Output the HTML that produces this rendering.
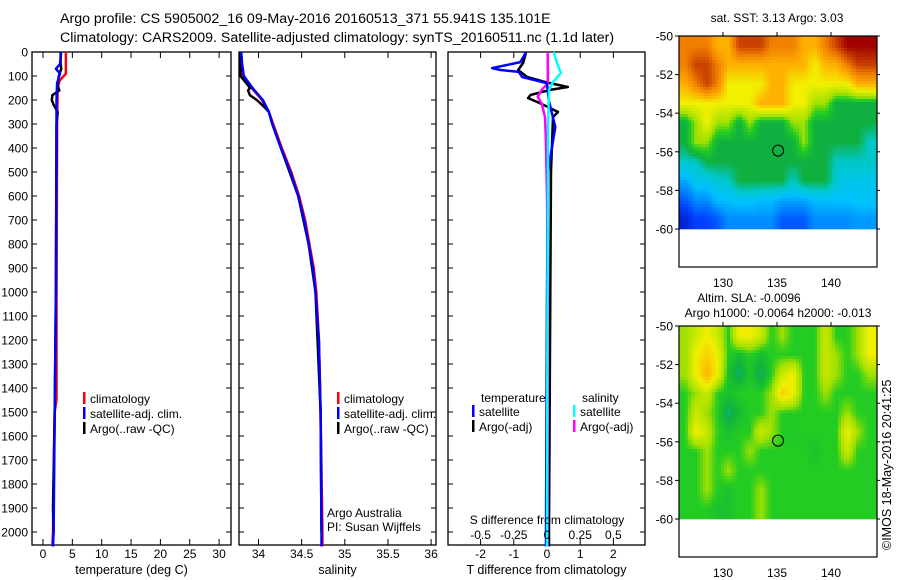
<!DOCTYPE html>
<html><head><meta charset="utf-8">
<style>
html,body{margin:0;padding:0;background:#fff;}
svg{display:block;font-family:"Liberation Sans",sans-serif;}
text{fill:#000;}
</style></head>
<body>
<svg id="fig" width="900" height="580" viewBox="0 0 900 580" xmlns="http://www.w3.org/2000/svg">
<text x="60" y="23" font-size="14.2">Argo profile: CS 5905002_16 09-May-2016 20160513_371 55.941S 135.101E</text>
<text x="60" y="42" font-size="14.2">Climatology: CARS2009. Satellite-adjusted climatology: synTS_20160511.nc (1.1d later)</text>
<text font-size="12.5" transform="translate(891,550) rotate(-90)">©IMOS 18-May-2016 20:41:25</text>
</svg>
<script>
// ---------- data ----------
const depthTicks = [0,100,200,300,400,500,600,700,800,900,1000,1100,1200,1300,1400,1500,1600,1700,1800,1900,2000];
const tTicks = [0,5,10,15,20,25,30];
const sTicks = [34,34.5,35,35.5,36];
const sTickLabels = ["34","34.5","35","35.5","36"];
const dTTicks = [-2,-1,0,1,2];
const dSTicks = [-0.5,-0.25,0,0.25,0.5];
const dSTickLabels = ["-0.5","-0.25","0","0.25","0.5"];

const tClimDepth = [0,90,120,150,300,1000,1450,1500,2000,2060];
const tClim      = [3.9,3.9,2.8,2.5,2.4,2.3,2.3,2.0,1.7,1.6];
const tSatDepth  = [0,50,70,90,130,200,400,1000,1500,2000,2060];
const tSat       = [3.1,2.9,2.2,2.9,2.4,2.3,2.3,2.2,2.0,1.8,1.7];
const tArgoDepth = [0,50,70,100,140,160,180,200,220,250,300,1000,1500,1900,2000];
const tArgo      = [3.0,3.0,3.1,2.7,2.5,2.8,1.6,1.5,1.8,2.5,2.3,2.2,2.0,1.7,1.8];

const sClimDepth = [0,50,100,150,200,250,300,400,500,600,700,800,900,1000,1200,1500,2000,2060];
const sClim      = [33.79,33.8,33.81,33.92,34.04,34.12,34.17,34.27,34.38,34.47,34.54,34.59,34.64,34.67,34.7,34.72,34.74,34.74];
const sSatDepth  = [0,50,100,150,200,250,300,400,500,600,700,800,900,1000,1200,1500,2000,2060];
const sSat       = [33.8,33.81,33.83,33.93,34.05,34.12,34.16,34.26,34.37,34.46,34.53,34.58,34.63,34.66,34.7,34.72,34.73,34.73];
const sArgoDepth = [0,100,130,150,160,180,200,230,250,300,400,600,800,1000,1500,2000];
const sArgo      = [33.79,33.79,33.86,33.9,33.88,33.9,33.98,34.07,34.12,34.16,34.26,34.46,34.58,34.66,34.72,34.73];

const dTSatDepth  = [0,42,67,75,83,104,130,200,312,500,1000,2000,2060];
const dTSat       = [-0.63,-0.8,-1.65,-1.4,-0.85,-0.75,0,0.05,0.25,0.03,0,-0.03,-0.03];
const dTArgoDepth = [0,46,75,104,125,146,158,179,192,208,229,250,271,500,1000,2000,2060];
const dTArgo      = [-0.63,-0.72,-0.87,-0.6,-0.06,0.63,0.09,-0.5,-0.57,-0.3,0.03,0.33,0.18,0.12,0.1,0.06,0.06];
const dSSatDepth  = [0,46,88,125,158,300,1000,2000,2060];
const dSSat       = [0.05,0.075,0.105,0.045,0.015,0.008,0.004,0,0];
const dSArgoDepth = [0,130,158,187,215,271,365,600,1000,1500,2000,2060];
const dSArgo      = [0.005,0.007,-0.04,-0.07,-0.04,-0.015,-0.008,0,0.005,0.006,0.004,0.004];

const mapLonTicks = [130,135,140];
const mapLatTicks = [-50,-52,-54,-56,-58,-60];
const sstGrid = [
 [7,7,7,6,6,8,8,8,7,7,7,6,6,7,8,9,9,9],
 [7,8,8,7,6,6,6,6,6,6,6,6,5,6,6,7,8,8],
 [6,7,8,7,5,5,5,5,6,6,5,5,5,5,5,5,6,6],
 [5,5,5,5,5,5,5,6,6,6,5,5,4,4,3,3,3,3],
 [3,4,5,4,4,3,4,3,3,3,4,4,3,3,3,3,3,3],
 [3,4,4,3,3,3,3,3,3,3,3,4,3,3,3,3,3,2.5],
 [2.5,2.5,3,3,3,3,3,3,3,3,3,3,3,3,2.5,2.5,2.5,2.5],
 [1.8,2.2,2.2,2.4,2.5,3,3,3,3,3,2.5,3,3,3,2.4,2.2,2.2,2.2],
 [1.2,1.6,1.6,2,2,2.1,2.1,2,2,1.8,1.8,1.8,2,2,2,2,2.1,2.1],
 [0.6,1,1,1.2,1.6,1.6,1.6,1.6,1.6,1.2,1.2,1.2,1.6,1.6,1.6,1.6,1.7,1.7]
];
const slaGrid = [
 [4,4.5,5,4.5,3.5,5,5,4.5,3.5,4,3.5,3.5,3.5,4.5,3.5,3.5,4,5],
 [4,5,5.5,5,3.5,3.2,3.5,3.2,3.5,3.5,3.5,3.5,3.5,4.5,4,3.5,4,5],
 [4,5,6,5,3.3,2.8,3.4,2.8,3.5,4.5,5,3.5,3.5,4.5,4,3.5,3.5,4],
 [3.5,4,4.5,3.5,3.3,3.5,3.5,3.5,4,5.5,5,3.5,3.5,4,3.5,3.5,3.5,3.5],
 [3.5,4.5,4,3.5,2.8,3.2,3.5,3.5,4,3.5,3.5,3.5,3.5,3.5,3.5,4,3.5,3.5],
 [3.5,5,4.5,3.5,3.3,3.5,3.5,4.5,4,3.5,3.4,3.5,3.5,3.5,3.5,5,4,3.5],
 [3.5,3.5,4,3.5,3.5,3.5,4,3.5,3.5,3.5,3.5,3.5,3.3,3.5,3.5,4.5,3.5,3.5],
 [3.5,3.5,4,3.5,4,3.5,3.5,3.5,3.5,3.5,3.5,3.5,3.5,3.5,3.5,3.5,3.5,3.5],
 [3.5,3.5,4,3.5,3.3,3.5,3.5,4,3.5,3.5,3.5,3.5,3.5,3.5,3.5,3.5,3.5,3.5],
 [3.5,3.5,3.5,3.3,3.3,3.5,3.5,4,3.5,3.5,3.5,3.5,3.5,3.5,3.5,3.5,3.5,3.5]
];
const gridLon0 = 126, gridLat0 = -50;

// ---------- drawing ----------
const svg = document.getElementById('fig');
const NS = 'http://www.w3.org/2000/svg';
const FS = 12;
function mk(tag, attrs, parent){ const e=document.createElementNS(NS,tag); for(const k in attrs) e.setAttribute(k,attrs[k]); (parent||svg).appendChild(e); return e; }
function txt(x,y,s,anchor,size,parent){ const t=mk('text',{x:x,y:y,'font-size':size||FS,'text-anchor':anchor||'start'},parent); t.textContent=s; return t; }

const pTop=52, pBot=545;
const yD = d => pTop + d*0.24;

function panel(name,x0,x1,xs,ticks,labels,xlabel){
  const g=mk('g',{});
  
  
  const fr=mk('rect',{x:x0,y:pTop,width:x1-x0,height:pBot-pTop,fill:'none',stroke:'#000','stroke-width':1.3},g);
  
  
  ticks.forEach((v,i)=>{ const x=xs(v);
    mk('line',{x1:x,x2:x,y1:pBot,y2:pBot-6,stroke:'#000'},g);
    mk('line',{x1:x,x2:x,y1:pTop,y2:pTop+6,stroke:'#000'},g);
    if(labels){ const t=txt(x,pBot+13,labels[i],'middle',FS,g);
      
       }
  });
  depthTicks.forEach(d=>{ const y=yD(d);
    mk('line',{x1:x0,x2:x0+5,y1:y,y2:y,stroke:'#000'},g);
    mk('line',{x1:x1,x2:x1-5,y1:y,y2:y,stroke:'#000'},g);
  });
  if(xlabel){ const t=txt((x0+x1)/2,pBot+29,xlabel,'middle',FS+0.5,g);
    
     }
  return g;
}
function series(name,g,xs,depths,vals,color,w){
  const pts=depths.map((d,i)=>xs(vals[i]).toFixed(1)+','+yD(Math.min(d,2060)).toFixed(1)).join(' ');
  const p=mk('polyline',{points:pts,fill:'none',stroke:color,'stroke-width':w||2.5,'stroke-linejoin':'round'},g);
  
  
}
function legend(g,x,y,items){
  items.forEach((it,i)=>{
    const yy=y+i*15;
    const m=mk('rect',{x:x,y:yy-11,width:2.5,height:12,fill:it[1]},g);
    
    
    const t=txt(x+7,yy,it[0],'start',FS,g);
    
    
  });
}

// depth axis labels
depthTicks.forEach(d=>{ const t=txt(28,yD(d)+4.5,String(d),'end',FS);
  
   });

// temperature panel
const xT = v => 43 + v*5.87;
const g1 = panel('temperature-panel',32,231,xT,tTicks,tTicks.map(String),'temperature (deg C)');
series('temp-climatology-line',g1,xT,tClimDepth,tClim,'#ff0000');
series('temp-argo-line',g1,xT,tArgoDepth,tArgo,'#000000');
series('temp-satellite-line',g1,xT,tSatDepth,tSat,'#0000ff');
legend(g1,83,403,[['climatology','#ff0000'],['satellite-adj. clim.','#0000ff'],['Argo(..raw -QC)','#000']]);

// salinity panel
const xS = v => 258.5 + (v-34)*86.3;
const g2 = panel('salinity-panel',239,436,xS,sTicks,sTickLabels,'salinity');
series('sal-climatology-line',g2,xS,sClimDepth,sClim,'#ff0000');
series('sal-argo-line',g2,xS,sArgoDepth,sArgo,'#000000');
series('sal-satellite-line',g2,xS,sSatDepth,sSat,'#0000ff');
legend(g2,337,403,[['climatology','#ff0000'],['satellite-adj. clim.','#0000ff'],['Argo(..raw -QC)','#000']]);
let t1=txt(327,517,'Argo Australia','start',FS,g2);  
let t2=txt(327,531,'PI: Susan Wijffels','start',FS,g2);  

// difference panel
const xDT = v => 547 + v*33.2;
const xDS = v => 547 + v*132.8;
const g3 = panel('difference-panel',448,645,xDT,dTTicks,dTTicks.map(String),'T difference from climatology');
mk('line',{x1:547,x2:547,y1:pTop,y2:pTop+40,stroke:'#000','stroke-dasharray':'1,3'},g3);
series('dT-argo-line',g3,xDT,dTArgoDepth,dTArgo,'#000000');
series('dS-argo-line',g3,xDS,dSArgoDepth,dSArgo,'#ff00ff');
series('dT-satellite-line',g3,xDT,dTSatDepth,dTSat,'#0000ff');
series('dS-satellite-line',g3,xDS,dSSatDepth,dSSat,'#00ffff');
dSTicks.forEach((v,i)=>{ const t=txt(xDS(v),539,dSTickLabels[i],'middle',FS,g3);
    });
let t3=txt(547,524,'S difference from climatology','middle',FS,g3);  
let t4=txt(481,402,'temperature','start',FS,g3);  
let t5=txt(582,402,'salinity','start',FS,g3);  
legend(g3,472,416,[['satellite','#0000ff'],['Argo(-adj)','#000']]);
legend(g3,573,416,[['satellite','#00ffff'],['Argo(-adj)','#ff00ff']]);

// colour map
const cStops=[[0,[0,0,144]],[1,[0,64,255]],[2,[0,192,255]],[2.5,[0,200,200]],[3,[16,176,64]],[3.5,[34,204,34]],[4,[160,224,0]],[5,[240,240,0]],[6,[255,176,0]],[7,[240,128,0]],[8,[200,64,0]],[9,[160,0,0]]];
function cmap(v){
  for(let i=0;i<cStops.length-1;i++){ const a=cStops[i],b=cStops[i+1];
    if(v<=b[0]){ const f=Math.max(0,(v-a[0])/(b[0]-a[0])); const c=a[1].map((x,j)=>Math.round(x+(b[1][j]-x)*f)); return 'rgb('+c.join(',')+')'; } }
  return 'rgb(160,0,0)';
}
function sample(grid,lon,lat){
  const nr=grid.length, nc=grid[0].length;
  let fx=(lon-gridLon0)-0.5, fy=(gridLat0-lat)-0.5;
  fx=Math.max(0,Math.min(nc-1,fx)); fy=Math.max(0,Math.min(nr-1,fy));
  const c0=Math.floor(fx), r0=Math.floor(fy), c1=Math.min(nc-1,c0+1), r1=Math.min(nr-1,r0+1);
  const ax=fx-c0, ay=fy-r0;
  return (grid[r0][c0]*(1-ax)+grid[r0][c1]*ax)*(1-ay)+(grid[r1][c0]*(1-ax)+grid[r1][c1]*ax)*ay;
}
function drawMap(name,ytop,grid){
  const x0=679,x1=877,yb=ytop+231;
  const mx = lon => 723 + (lon-130)*10.8;
  const my = lat => ytop + (-50-lat)*19.3;
  const g=mk('g',{});
  
  
  const ydata=my(-60), step=3;
  for(let py=ytop; py<ydata; py+=step){
    for(let px=x0; px<x1; px+=step){
      const lon=130+(px+step/2-723)/10.8, lat=-50-(py+step/2-ytop)/19.3;
      const cell=mk('rect',{x:px,y:py,width:Math.min(step,x1-px)+0.3,height:Math.min(step,ydata-py)+0.3,fill:cmap(sample(grid,lon,lat))},g);
      
      
    }
  }
  const fr=mk('rect',{x:x0,y:ytop,width:x1-x0,height:yb-ytop,fill:'none',stroke:'#000','stroke-width':1.2},g);
   
  mapLonTicks.forEach(l=>{ const x=mx(l);
    mk('line',{x1:x,x2:x,y1:ytop,y2:ytop-4,stroke:'#000'},g);
    const t=txt(x,yb+20,String(l),'middle',FS,g);
      });
  mapLatTicks.forEach(l=>{ const y=my(l);
    mk('line',{x1:x0,x2:x0-4,y1:y,y2:y,stroke:'#000'},g);
    mk('line',{x1:x1,x2:x1+3,y1:y,y2:y,stroke:'#000'},g);
    const t=txt(673,y+4.5,String(l),'end',FS,g);
      });
  const c=mk('circle',{cx:mx(135.1),cy:my(-55.94),r:5.5,fill:'none',stroke:'#000','stroke-width':1},g);
   
  return g;
}
const m1=drawMap('sst-map',36,sstGrid);
let t6=txt(777,22,'sat. SST: 3.13 Argo: 3.03','middle',FS,m1);  
const m2=drawMap('sla-map',326,slaGrid);
let t7=txt(749,302,'Altim. SLA: -0.0096','middle',FS,m2);  
let t8=txt(778,317,'Argo h1000: -0.0064 h2000: -0.013','middle',FS,m2);  
</script>
</body></html>
